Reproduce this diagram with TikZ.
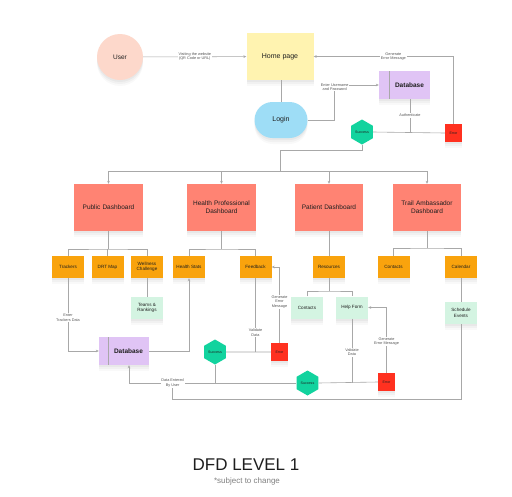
\documentclass[tikz,border=0pt]{standalone}
\usepackage{fontspec}
\setmainfont{Liberation Sans}
\usetikzlibrary{shapes.geometric,arrows.meta}
\definecolor{peachc}{HTML}{FDD8CB}
\definecolor{yellowc}{HTML}{FFF3B0}
\definecolor{purplec}{HTML}{E0C4F5}
\definecolor{bluec}{HTML}{9EDDF6}
\definecolor{tealc}{HTML}{12D39E}
\definecolor{redc}{HTML}{FF3120}
\definecolor{salmonc}{HTML}{FF8373}
\definecolor{orangec}{HTML}{F9A30D}
\definecolor{mintc}{HTML}{D4F4E2}
\definecolor{linec}{HTML}{A8A8A8}
\definecolor{labc}{HTML}{555555}
\definecolor{textc}{HTML}{1E1E1E}
\tikzset{
  ln/.style={draw=linec, line width=0.6pt},
  arr/.style={ln, -{Stealth[length=3pt,width=2.6pt]}},
  shad/.style={
    preaction={fill=black, fill opacity=0.035, transform canvas={yshift=-2pt}},
    preaction={fill=black, fill opacity=0.03, transform canvas={yshift=-4pt}},
    preaction={fill=black, fill opacity=0.025, transform canvas={yshift=-6pt}}},
  lbl/.style={fill=white, inner sep=0.8pt, font=\fontsize{3.8}{4.4}\selectfont, text=labc, align=center},
  subbox/.style={fill=orangec, minimum width=32pt, minimum height=22pt, inner sep=0.5pt, font=\fontsize{4.6}{5.4}\selectfont, align=center, text=textc, shad},
  mintbox/.style={subbox, fill=mintc},
  hexa/.style={regular polygon, regular polygon sides=6, shape border rotate=30, minimum size=25pt, inner sep=0pt, fill=tealc, font=\fontsize{3.6}{4}\selectfont, text=textc},
  errbox/.style={fill=redc, minimum width=17pt, minimum height=18pt, inner sep=0pt, font=\fontsize{3.5}{4}\selectfont, text=textc, shad},
  dbbox/.style={fill=purplec, minimum width=51pt, minimum height=28pt, font=\bfseries\fontsize{6.5}{7.5}\selectfont, text=textc, shad,
    path picture={\draw[ln] ([xshift=#1]path picture bounding box.north west) -- ([xshift=#1]path picture bounding box.south west);}},
  dashbox/.style={fill=salmonc, minimum width=67pt, minimum height=47pt, text width=62pt, align=center, font=\fontsize{6.5}{7.8}\selectfont, text=textc, shad}
}
\begin{document}
\begin{tikzpicture}[x=1pt,y=-1pt]
\useasboundingbox (0,0) rectangle (512,496);
\fill[white] (0,0) rectangle (512,496);

% top level
\node[circle, fill=peachc, minimum size=46pt, font=\fontsize{6.5}{7}\selectfont, text=textc, shad] (user) at (120,57) {User};
\node[fill=yellowc, minimum width=67pt, minimum height=47pt, font=\fontsize{7}{8}\selectfont, text=textc, shad] (home) at (280,56.5) {Home page};
\node[dbbox=10pt] (db1) at (404.5,85) {\hspace*{10pt}Database};
\node[fill=bluec, minimum width=53pt, minimum height=36pt, rounded corners=18pt, font=\fontsize{7}{8}\selectfont, text=textc, shad] (login) at (281,120) {Login};
\node[hexa] (s1) at (362,132) {Success};
\node[errbox] (e1) at (453.5,133) {Error};

% dashboards
\node[dashbox] (pub) at (108.5,207.5) {Public Dashboard};
\node[dashbox] (hp) at (221.5,207.5) {Health Professional\\Dashboard};
\node[dashbox] (pat) at (329,207.5) {Patient Dashboard};
\node[dashbox] (trail) at (427,207.5) {Trail Ambassador\\Dashboard};

% sub boxes
\node[subbox] (trackers) at (68,267) {Trackers};
\node[subbox] (drt) at (107.5,267) {DRT Map};
\node[subbox] (well) at (147,267) {Wellness\\Challenge};
\node[subbox] (hstats) at (189,267) {Health Stats};
\node[subbox] (feedback) at (255.5,267) {Feedback};
\node[subbox] (resources) at (329,267) {Resources};
\node[subbox] (contacts) at (393.5,267) {Contacts};
\node[subbox] (calendar) at (461,267) {Calendar};

\node[mintbox] (teams) at (147,308) {Teams \&\\Rankings};
\node[mintbox] (contacts2) at (307,307.5) {Contacts};
\node[mintbox] (helpform) at (352,307.5) {Help Form};
\node[mintbox] (schedule) at (461,313) {Schedule\\Events};

\node[dbbox=9pt, minimum width=50pt] (db2) at (124,351) {\hspace*{9pt}Database};
\node[hexa] (s2) at (215,352) {Success};
\node[errbox] (e2) at (279.5,352) {Error};
\node[hexa] (s3) at (307.5,383) {Success};
\node[errbox] (e3) at (386.5,382) {Error};

% title
\node[font=\fontsize{17}{20}\selectfont, text=textc] (title) at (246,465) {DFD LEVEL 1};
\node[font=\fontsize{8}{9}\selectfont, text=gray] (sub) at (247,481) {*subject to change};

% connectors top
\draw[arr] (user) -- node[lbl]{Visiting the website\\(QR Code or URL)} (home);
\draw[arr] (e1.north) |- node[lbl,pos=0.715]{Generate\\Error Message} (home.east);
\draw[ln] (login.north |- home.south) -- (login.north);
\draw[arr] (login.east) -- ++(27,0) |- node[lbl,pos=0.47]{Enter Username\\and Password} (db1.west);
\draw[ln] ([xshift=5.5pt]db1.south) -- node[lbl]{Authenticate} ([xshift=5.5pt]db1.south |- s1.east);
\draw[ln] (s1.east) -- (e1.west);

\coordinate (b1) at (280,150);
\coordinate (bus) at (280,171);
\draw[ln] (s1.south) |- (b1) -- (bus);
\draw[ln] (pub.north |- bus) -- (trail.north |- bus);
\foreach \n in {pub,hp,pat,trail} \draw[arr] (\n.north |- bus) -- (\n.north);

% dashboards to sub boxes
\coordinate (pbus) at (108.5,249);
\draw[ln] (pub.south) -- (pbus);
\draw[ln] (trackers.north) |- (pbus) -| (well.north);
\draw[ln] (drt.north |- pbus) -- (drt.north);
\coordinate (hbus) at (221.5,249);
\draw[ln] (hp.south) -- (hbus);
\draw[ln] (hstats.north) |- (hbus) -| (feedback.north);
\draw[ln] (pat.south) -- (resources.north);
\coordinate (tbus) at (427,248);
\draw[ln] (trail.south) -- (tbus);
\draw[ln] (contacts.north) |- (tbus) -| (calendar.north);
\draw[ln] (well.south) -- (teams.north);
\coordinate (rbus) at (329,291);
\draw[ln] (resources.south) -- (rbus);
\draw[ln] (contacts2.north) |- (rbus) -| (helpform.north);
\draw[ln] (calendar.south) -- (schedule.north);

% lower flows
\draw[arr] (trackers.south) |- node[lbl,pos=0.27]{Enter\\Trackers Data} (db2.west);
\draw[arr] (db2.east) -| (hstats.south);
\draw[ln] (s2.east) -- (e2.west);
\draw[ln] (feedback.south) -- node[lbl,pos=0.74]{Validate\\Data} (feedback.south |- s2.east);
\draw[arr] (e2.north) |- node[lbl,pos=0.27]{Generate\\Error\\Message} (feedback.east);
\draw[arr] (s3.west) -| node[lbl,pos=0.37] (dlab) {Data Entered\\By User} ([xshift=5pt]db2.south);
\draw[ln] (s2.south) -- (s2.south |- s3.west);
\draw[ln] (s3.east) -- (e3.west);
\draw[ln] (helpform.south) -- node[lbl,pos=0.52]{Validate\\Data} (helpform.south |- s3.east);
\draw[arr] (e3.north) |- node[lbl,pos=0.24]{Generate\\Error Message} (helpform.east);
\coordinate (low) at (171,399);
\draw[ln] (schedule.south) |- (dlab.south |- low) -- (dlab.south);
\end{tikzpicture}
\end{document}
